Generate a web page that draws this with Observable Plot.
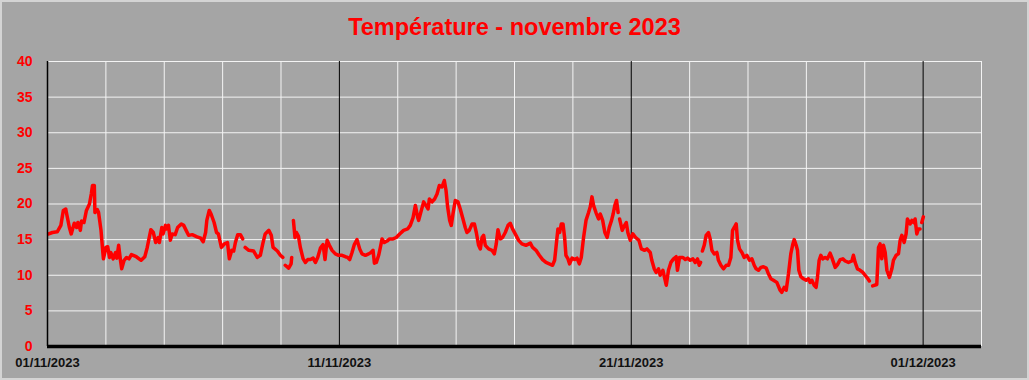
<!DOCTYPE html>
<html>
<head>
<meta charset="utf-8">
<script src="https://cdn.jsdelivr.net/npm/d3@7"></script>
<script src="https://cdn.jsdelivr.net/npm/@observablehq/plot@0.6"></script>
<style>
  html, body { margin: 0; padding: 0; }
  #frame { position: relative; width: 1029px; height: 380px; background: #a5a5a5; overflow: hidden; }
  #border { position: absolute; left: 0; top: 0; width: 1029px; height: 380px; box-sizing: border-box; border: 2px solid #d4d4d4; pointer-events: none; }
  #title { height: 48px; box-sizing: border-box; padding-top: 8px; line-height: 38px; text-align: center;
           font-family: "Liberation Sans", Arial, sans-serif; font-weight: bold; font-size: 23.5px; color: #ff0000; }
  svg { display: block; }
</style>
</head>
<body>
<div id="frame">
  <div id="title">Température - novembre 2023</div>
  <div id="chart"></div>
  <div id="border"></div>
</div>
<script>
// Hours since 01/11/2023 00:00 (null temperature = gap in the record)
const hours = [
  1, 4, 8, 11, 13, 15, 16, 18, 19.5, 21, 22, 24, 25, 26, 27, 28, 30, 32, 34.5, 36, 37, 38.5, 39, 41, 42, 44, 45.5, 46, 48, 49.5,
  51, 52, 54, 56, 57, 58.5, 60, 61, 63, 65, 67, 69, 73, 77, 80, 82, 85, 87, 89, 91, 92, 94, 95, 97, 98, 99.5, 101, 102.5, 105, 107,
  110, 112, 114, 116, 119, 123, 126, 128, 130, 131, 133, 134.5, 137, 139, 140.5, 143, 145.5, 148, 149.5, 151.5, 153.1, 154.5, 156.4, 158.6, 160.5, 161.5,
  162.5, 165.5, 169.5, 172.5, 175, 177, 179, 182, 184, 185.5, 189, 191.5, 193.5, 194.5,
  195.5, 198.3, 200.3, 200.8, 201.5,
  202.2, 203.5, 204.7, 206.3, 207.9, 210.2, 212.1, 214, 216.2, 218.4, 220.3, 222.2, 224.4, 226.6, 228.2, 229.9, 231.8, 234, 236.7, 239.4,
  242.2, 244.9, 246.8, 248.5, 250.4, 252.3, 254.5, 256.7, 258.6, 261.4, 264.1, 266, 267.7, 268.8, 270.4, 272.3, 273.7, 275.1, 277, 279.2,
  281.3, 284.1, 286.8, 289.6, 292.8, 296.1, 298.3, 300.6, 302.5, 304.4, 305.2, 307.4, 309.3, 311.2, 312.9, 314, 316.2, 318.3, 320.3, 322.2,
  324.4, 326.3, 327.7, 329, 330.7, 332, 333.4, 335.3, 337.5, 339.4, 341.3, 343.5, 344.9, 346.8, 349.1, 351, 352.6, 354.5, 355.9, 357.3,
  358.6, 360, 362.7, 365.5, 367.4, 369, 370.4, 372.3, 374.2, 376.4, 378.7, 380.5, 382.4, 384.6, 387.4, 390.1, 393.4, 397, 398.9, 401.7,
  404.4, 407.1, 409.9, 412.6, 415.3, 417, 418.1, 419.7, 421.1, 422.5, 423.9, 425.2, 426.3, 428, 429.3, 431.3, 433.4, 435.4, 437.3, 438.9,
  440.8, 442.8, 444.9, 446.3, 447.7, 449, 451, 453.1, 454.5, 456.5, 458.3, 460.2, 461.9, 463.8, 465.1, 466.5, 467.9, 469.2, 469.8,
  470.4, 472.6, 474.5, 475.9, 477.2, 479.2, 481.3, 483.6, 486.3, 488.3, 491, 492.9, 495.6, 496.9, 498.9, 500.5, 502.4, 503.8, 506, 507.9,
  508.8, 510.6, 512.6, 514.8, 516.9, 518, 519.7, 522.5, 524.4, 526.3, 528.5, 530.7, 532.6, 534.5, 535.9, 537, 537.7,
  538.5, 540, 541.6, 543.5, 544.9, 546.3, 548.2, 550.4, 551.7, 553.7, 555.8, 558.1, 560, 561.9, 563.3, 564.7, 566.3, 567.4, 569, 571,
  572.9, 575.1, 577.2, 579.2, 581.1, 582.7, 584.6, 586.6, 588.7, 591, 592.8, 594.8, 596.9, 599.7, 602.4, 603.8, 605.7, 607.4, 609.3, 611.2,
  612.9, 614, 615.6, 616.7, 617.8, 619.5, 621.6, 623.8, 625.7, 627.1, 628.5, 630.4, 632, 633.1, 634.5, 635.9, 637.5, 639.4, 641.3, 643.5,
  644.9, 646.3, 647.7, 649.6, 651.8, 654, 655.9, 658.6, 661.4, 662.7, 664.1, 666, 668.2, 670.4, 672.3, 674.2, 675.8, 676.8,
  678.5, 681.9, 683.3, 684.6, 686, 687.4, 688.8, 690.2, 692.3, 694.3, 695.6, 697.8, 699.7, 701.1, 702.5, 704.4, 706, 707.1, 709.3, 710.7,
  712.1, 713.4, 714.8, 716.1, 717.5, 718,
  718.9, 720.2
];
const temps = [
  15.8, 16.0, 16.1, 17.0, 19.1, 19.3, 18.4, 16.7, 15.8, 16.7, 17.3, 16.7, 17.4, 17.0, 16.3, 17.6, 17.4, 19.1, 20.0, 21.4, 22.6, 22.6, 18.8, 19.2, 18.8, 16.3, 13.2, 12.3, 13.9, 14.0,
  12.5, 13.2, 12.3, 13.2, 12.4, 14.2, 12.1, 10.9, 12.1, 12.5, 12.3, 12.9, 12.6, 12.1, 12.6, 13.9, 16.4, 16.0, 14.6, 15.3, 14.6, 16.7, 15.8, 17.0, 16.5, 17.0, 14.9, 15.8, 15.7, 16.7,
  17.2, 17.0, 16.3, 15.6, 15.7, 15.4, 15.2, 14.7, 16.0, 17.7, 19.1, 18.6, 17.4, 16.0, 15.8, 13.9, 14.4, 14.6, 12.3, 13.5, 13.4, 14.6, 15.7, 15.7, 15.1, null,
  13.9, 13.5, 13.4, 12.5, 12.8, 14.4, 15.8, 16.3, 15.6, 13.9, 13.4, 12.8, 12.5, null,
  11.4, 11.0, 11.6, 12.5, null,
  17.7, 15.3, 16.0, 15.5, 13.9, 12.3, 11.8, 12.2, 12.2, 12.4, 11.8, 12.5, 13.8, 14.3, 12.2, 14.9, 14.2, 13.5, 13.0, 12.8,
  12.8, 12.6, 12.5, 12.2, 13.2, 14.3, 15.0, 13.7, 13.0, 12.8, 13.0, 13.2, 13.5, 11.7, 11.8, 12.8, 13.9, 15.1, 14.6, 14.8,
  15.1, 15.1, 15.3, 15.8, 16.3, 16.5, 17.0, 18.1, 19.8, 18.1, 17.7, 19.1, 20.3, 19.8, 19.3, 20.7, 20.3, 20.7, 21.4, 22.6,
  22.4, 23.3, 21.9, 19.6, 17.7, 17.0, 18.6, 20.5, 20.3, 19.3, 18.1, 16.7, 16.0, 16.3, 17.2, 17.2, 16.0, 14.2, 13.7, 15.3,
  15.6, 14.2, 13.7, 13.5, 13.0, 14.4, 16.4, 15.1, 15.3, 16.0, 17.0, 17.3, 16.5, 15.8, 14.9, 14.4, 14.2, 14.5, 13.9, 13.5,
  12.8, 12.2, 11.8, 11.6, 11.4, 12.1, 13.9, 16.5, 16.0, 17.2, 17.2, 15.3, 12.8, 12.3, 11.6, 12.4, 12.2, 12.4, 11.6, 12.5,
  15.3, 17.7, 18.8, 19.6, 21.0, 19.8, 18.8, 17.9, 18.6, 17.7, 16.0, 15.3, 16.7, 17.7, 18.6, 19.8, 20.5, 18.8, null,
  17.9, 16.3, 17.0, 17.4, 16.0, 14.9, 15.8, 15.3, 14.9, 13.7, 13.5, 13.7, 13.2, 12.1, 10.9, 10.4, 10.9, 10.0, 10.7, 9.3,
  8.6, 10.7, 11.8, 12.3, 12.6, 10.7, 12.5, 12.5, 12.2, 12.4, 12.1, 12.3, 11.8, 12.3, 11.4, 11.8, null,
  13.4, 14.2, 15.6, 16.0, 15.1, 13.5, 13.0, 13.2, 12.1, 11.4, 10.9, 11.4, 11.4, 12.5, 16.3, 16.7, 17.2, 14.9, 13.7, 13.2,
  12.5, 12.8, 12.1, 12.3, 11.4, 10.9, 10.7, 11.1, 11.2, 11.0, 10.2, 9.5, 9.3, 9.0, 7.9, 7.6, 8.3, 7.9, 10.2, 13.0,
  14.4, 15.0, 14.2, 13.5, 10.7, 9.8, 9.5, 9.3, 9.5, 9.0, 9.3, 8.6, 8.3, 9.7, 12.1, 12.8, 12.3, 12.5, 12.3, 13.1,
  12.5, 11.8, 11.1, 11.5, 12.2, 12.3, 12.0, 11.8, 12.0, 12.8, 11.8, 10.9, 10.7, 10.4, 10.0, 9.6, 9.2, null,
  8.5, 8.7, 13.9, 14.4, 12.3, 14.2, 13.2, 10.7, 9.7, 10.9, 12.1, 12.8, 13.0, 14.9, 15.6, 14.6, 15.8, 17.9, 17.2, 17.7,
  17.4, 17.9, 15.8, 16.5, 16.5, null,
  17.4, 18.2
];

const yTicks = [0, 5, 10, 15, 20, 25, 30, 35, 40];
const gridDays = [2, 4, 6, 8, 12, 14, 16, 18, 22, 24, 26, 28, 32];
const majorDays = [10, 20, 30];
const labelDays = [0, 10, 20, 30];
const xLabels = ["01/11/2023", "11/11/2023", "21/11/2023", "01/12/2023"];
const lastDay = 32;

const start = Date.UTC(2023, 10, 1);
const dayDate = d => new Date(start + d * 86400000);
const data = hours.map((h, i) => ({date: new Date(start + h * 3600000), t: temps[i]}));

const plot = Plot.plot({
  width: 1029,
  height: 332,
  marginTop: 13,
  marginBottom: 34,
  marginLeft: 47,
  marginRight: 48,
  style: {background: "transparent", overflow: "visible"},
  x: {type: "utc", domain: [dayDate(0), dayDate(lastDay)]},
  y: {domain: [0, 40]},
  marks: [
    Plot.ruleY(yTicks.slice(1), {stroke: "#f4f4f4", strokeWidth: 1}),
    Plot.ruleX(gridDays.map(dayDate), {stroke: "#f4f4f4", strokeWidth: 1}),
    Plot.ruleX(majorDays.map(dayDate), {stroke: "#000", strokeWidth: 1}),
    Plot.line(data, {x: "date", y: "t", stroke: "#ff0000", strokeWidth: 3.5, strokeLinejoin: "round", strokeLinecap: "round"}),
    Plot.ruleX([dayDate(0)], {stroke: "#000", strokeWidth: 1.5}),
    Plot.ruleY([0], {stroke: "#000", strokeWidth: 3.5}),
    Plot.axisY({ticks: yTicks, tickSize: 0, tickPadding: 15, fill: "#ff0000",
      fontSize: 14, fontWeight: "bold", fontFamily: "Liberation Sans, Arial, sans-serif", label: null}),
    Plot.axisX({ticks: labelDays.map(dayDate), tickSize: 0, tickPadding: 11,
      tickFormat: (d) => xLabels[labelDays.indexOf(Math.round((d - start) / 86400000))],
      fill: "#111", fontSize: 13, fontWeight: "bold", fontFamily: "Liberation Sans, Arial, sans-serif", label: null})
  ]
});
document.getElementById("chart").appendChild(plot);
</script>
</body>
</html>
